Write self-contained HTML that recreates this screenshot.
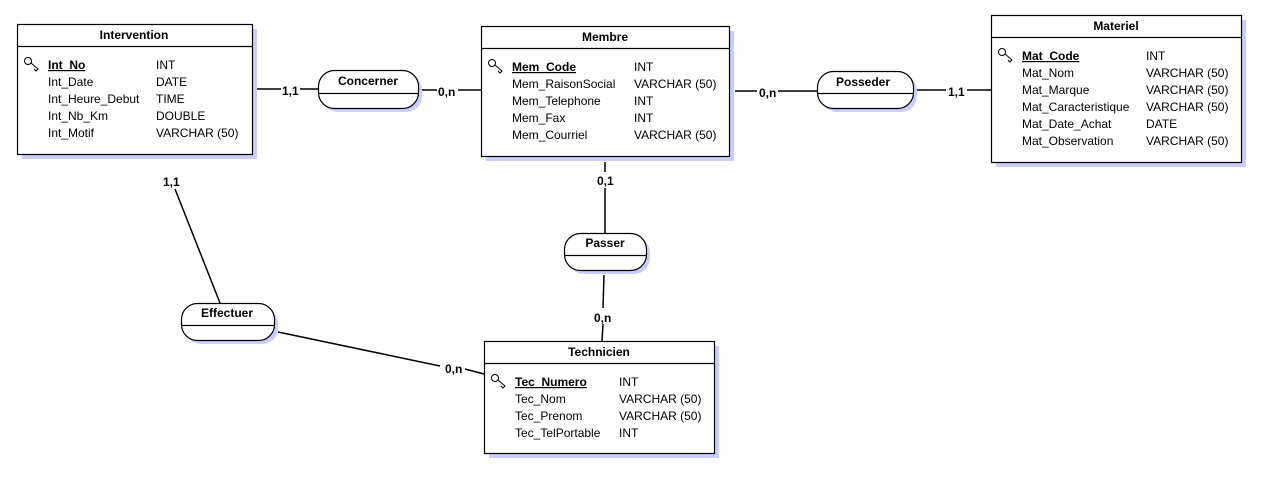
<!DOCTYPE html>
<html><head><meta charset="utf-8"><style>
html,body{margin:0;padding:0;background:#fff;}
svg{display:block;font-family:"Liberation Sans",Arial,sans-serif;font-size:12px;}
.h{font-weight:bold;text-anchor:middle;}
.k{font-weight:bold;text-decoration:underline;}
.c{font-weight:bold;font-size:12px;}
</style></head><body>
<svg width="1265" height="480" viewBox="0 0 1265 480" xmlns="http://www.w3.org/2000/svg">
<defs>
<g id="key"><circle cx="4" cy="4" r="3.5" fill="#fff" stroke="#000" stroke-width="1"/><path d="M7 6 L14 12 L12 14 L10 12" fill="none" stroke="#000" stroke-width="1"/></g>
</defs>
<g stroke="#000" stroke-width="1.5" fill="none">
<line x1="257" y1="89" x2="281" y2="89"/><line x1="300" y1="89" x2="318" y2="89"/>
<line x1="418" y1="90" x2="437" y2="90"/><line x1="458" y1="90" x2="481" y2="90"/>
<line x1="735" y1="91" x2="757" y2="91"/><line x1="778" y1="91" x2="817" y2="91"/>
<line x1="917" y1="90" x2="946" y2="90"/><line x1="967" y1="90" x2="991" y2="90"/>
<line x1="605" y1="162" x2="605" y2="172"/><line x1="605" y1="188" x2="605" y2="233"/>
<line x1="604" y1="275" x2="603" y2="308"/><line x1="603" y1="324" x2="602" y2="341"/>
<line x1="175" y1="189" x2="220" y2="303"/>
<line x1="278" y1="332" x2="440" y2="366"/><line x1="465" y1="369" x2="484" y2="374"/>
</g>
<g class="c">
<text x="282" y="95">1,1</text><text x="438" y="96">0,n</text>
<text x="759" y="97">0,n</text><text x="948" y="96">1,1</text>
<text x="597" y="185">0,1</text><text x="594" y="322">0,n</text>
<text x="163" y="186">1,1</text><text x="445" y="373">0,n</text>
</g>
<g fill="#ccccff">
<rect x="22" y="29" width="235" height="130"/>
<rect x="486" y="31" width="248" height="130"/>
<rect x="996" y="20" width="250" height="147"/>
<rect x="489" y="346" width="230" height="112"/>
<rect x="322" y="74" width="100" height="38" rx="16"/>
<rect x="821" y="75" width="96" height="37" rx="16"/>
<rect x="568" y="237" width="82" height="37" rx="16"/>
<rect x="185" y="307" width="93" height="37" rx="16"/>
</g>
<g fill="#fff" stroke="#000" stroke-width="1.2">
<rect x="17.5" y="24.5" width="235" height="130"/><line x1="17" y1="46.5" x2="252" y2="46.5"/>
<rect x="481.5" y="26.5" width="248" height="130"/><line x1="481" y1="48.5" x2="729" y2="48.5"/>
<rect x="991.5" y="15.5" width="250" height="147"/><line x1="991" y1="37.5" x2="1241" y2="37.5"/>
<rect x="484.5" y="341.5" width="230" height="112"/><line x1="484" y1="363.5" x2="714" y2="363.5"/>
<rect x="318.5" y="70.5" width="100" height="38" rx="16"/><line x1="319" y1="93.5" x2="418" y2="93.5"/>
<rect x="817.5" y="71.5" width="96" height="37" rx="16"/><line x1="818" y1="93.5" x2="913" y2="93.5"/>
<rect x="564.5" y="233.5" width="82" height="37" rx="16"/><line x1="565" y1="255.5" x2="646" y2="255.5"/>
<rect x="181.5" y="303.5" width="93" height="37" rx="16"/><line x1="182" y1="325.5" x2="274" y2="325.5"/>
</g>
<g class="h">
<text x="134" y="39">Intervention</text>
<text x="605" y="41">Membre</text>
<text x="1116" y="30">Materiel</text>
<text x="599" y="356">Technicien</text>
<text x="368" y="85">Concerner</text>
<text x="863" y="86">Posseder</text>
<text x="605" y="247">Passer</text>
<text x="227" y="317">Effectuer</text>
</g>
<use href="#key" x="24" y="57"/><use href="#key" x="488" y="59"/><use href="#key" x="998" y="48"/><use href="#key" x="491" y="374"/>
<g>
<text x="48" y="69" class="k">Int_No</text><text x="156" y="69">INT</text>
<text x="48" y="86">Int_Date</text><text x="156" y="86">DATE</text>
<text x="48" y="103">Int_Heure_Debut</text><text x="156" y="103">TIME</text>
<text x="48" y="120">Int_Nb_Km</text><text x="156" y="120">DOUBLE</text>
<text x="48" y="137">Int_Motif</text><text x="156" y="137">VARCHAR (50)</text>

<text x="512" y="71" class="k">Mem_Code</text><text x="634" y="71">INT</text>
<text x="512" y="88">Mem_RaisonSocial</text><text x="634" y="88">VARCHAR (50)</text>
<text x="512" y="105">Mem_Telephone</text><text x="634" y="105">INT</text>
<text x="512" y="122">Mem_Fax</text><text x="634" y="122">INT</text>
<text x="512" y="139">Mem_Courriel</text><text x="634" y="139">VARCHAR (50)</text>

<text x="1022" y="60" class="k">Mat_Code</text><text x="1146" y="60">INT</text>
<text x="1022" y="77">Mat_Nom</text><text x="1146" y="77">VARCHAR (50)</text>
<text x="1022" y="94">Mat_Marque</text><text x="1146" y="94">VARCHAR (50)</text>
<text x="1022" y="111">Mat_Caracteristique</text><text x="1146" y="111">VARCHAR (50)</text>
<text x="1022" y="128">Mat_Date_Achat</text><text x="1146" y="128">DATE</text>
<text x="1022" y="145">Mat_Observation</text><text x="1146" y="145">VARCHAR (50)</text>

<text x="515" y="386" class="k">Tec_Numero</text><text x="619" y="386">INT</text>
<text x="515" y="403">Tec_Nom</text><text x="619" y="403">VARCHAR (50)</text>
<text x="515" y="420">Tec_Prenom</text><text x="619" y="420">VARCHAR (50)</text>
<text x="515" y="437">Tec_TelPortable</text><text x="619" y="437">INT</text>
</g>
</svg>
</body></html>
